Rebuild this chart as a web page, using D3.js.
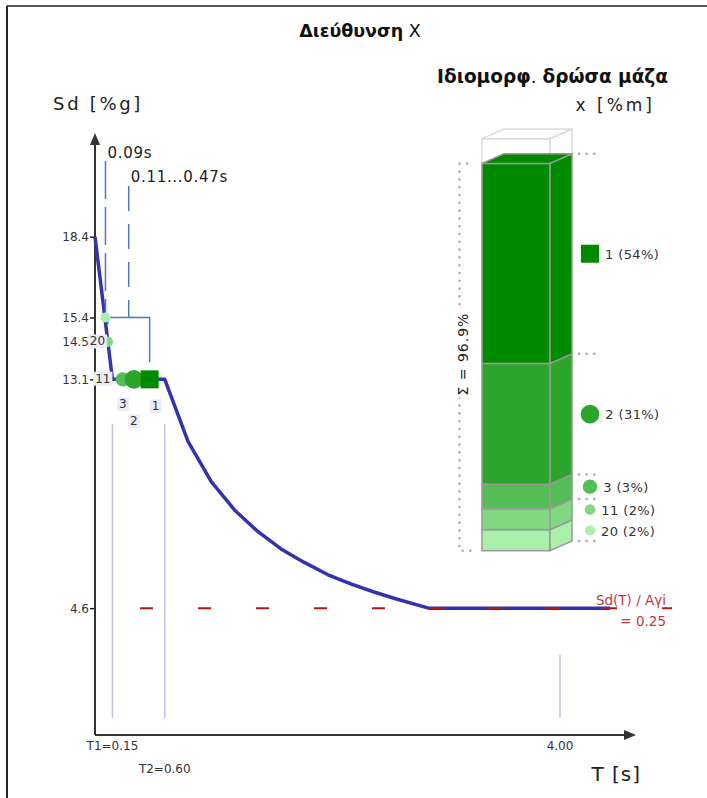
<!DOCTYPE html>
<html>
<head>
<meta charset="utf-8">
<script src="https://cdn.jsdelivr.net/npm/d3@7"></script>
<style>
  body { margin: 0; background: #fff; }
  svg { display: block; font-family: "DejaVu Sans", sans-serif; }
</style>
</head>
<body>
<div id="chart"></div>
<script>
// design spectrum
var specT  = [0, 0.15, 0.60, 0.80, 1.00, 1.20, 1.40, 1.60, 1.80, 2.00, 2.20, 2.40, 2.60, 2.87, 4.43];
var specSd = [18.4, 13.1, 13.1, 10.8, 9.3, 8.25, 7.45, 6.8, 6.3, 5.85, 5.5, 5.2, 4.93, 4.6, 4.6];

var yTicks = [18.4, 15.4, 14.5, 13.1, 4.6];
var xTicks = [0.15, 0.60, 4.00];
var xTickLabels = ["T1=0.15", "T2=0.60", "4.00"];

// modes
var modeIds  = [1, 2, 3, 11, 20];
var modeT    = [0.47, 0.335, 0.24, 0.11, 0.09];
var modeSd   = [13.1, 13.1, 13.1, 14.5, 15.4];
var modeMass = [54, 31, 3, 2, 2];
var massSum  = 96.9;
var sdRatio  = 0.25;

// styles
var modeColor  = ["#008a00", "#2ca52c", "#55bd55", "#80d880", "#aaf0aa"];
var markerR    = [9, 9.3, 7.2, 5.3, 5];
var labelNudge = [[6, 27], [0, 42], [0, 25], [-5, 37], [-8, 24]];

var W = 707, H = 798;

var svg = d3.select("#chart")
    .append("svg")
        .attr("width", W)
        .attr("height", H);

// frame
svg.append("line").attr("x1", 7).attr("x2", W).attr("y1", 6).attr("y2", 6)
    .attr("stroke", "#555").attr("stroke-width", 2);
svg.append("line").attr("x1", 7).attr("x2", 7).attr("y1", 6).attr("y2", H)
    .attr("stroke", "#222").attr("stroke-width", 2);

// scales
var x = d3.scaleLinear().domain([0, 4]).range([95, 560]);
var y = d3.scaleLinear().domain([0, 18.4]).range([732, 236.7]);
var axisY = 735, axisX = 95;

// titles
var title = svg.append("text")
    .attr("x", 360).attr("y", 37)
    .attr("text-anchor", "middle")
    .attr("font-size", "17.5px")
    .attr("fill", "#111");
title.append("tspan").attr("font-weight", "bold").text("Διεύθυνση");
title.append("tspan").text(" X");

var mt = svg.append("text")
    .attr("x", 668).attr("y", 83)
    .attr("text-anchor", "end")
    .attr("font-size", "18.5px")
    .attr("fill", "#111");
mt.append("tspan").attr("font-weight", "bold").text("Ιδιομορφ");
mt.append("tspan").text(". ");
mt.append("tspan").attr("font-weight", "bold").text("δρώσα μάζα");

svg.append("text")
    .attr("x", 655).attr("y", 111)
    .attr("text-anchor", "end")
    .attr("font-size", "17px")
    .attr("letter-spacing", "3px")
    .attr("fill", "#222")
    .text("x [%m]");

svg.append("text")
    .attr("x", 53).attr("y", 110)
    .attr("font-size", "18px")
    .attr("letter-spacing", "2.7px")
    .attr("fill", "#222")
    .text("Sd [%g]");

svg.append("text")
    .attr("x", 641).attr("y", 781)
    .attr("text-anchor", "end")
    .attr("font-size", "20px")
    .attr("letter-spacing", "1px")
    .attr("fill", "#222")
    .text("T [s]");

// vertical guides at T1, T2, 4.00
svg.selectAll(".guide")
    .data(xTicks)
    .enter().append("line")
        .attr("class", "guide")
        .attr("x1", function(d){ return x(d); })
        .attr("x2", function(d){ return x(d); })
        .attr("y1", function(d, i){ return i < 2 ? 424 : 655; })
        .attr("y2", 718)
        .attr("stroke", "#c4c4e6")
        .attr("stroke-width", 1.5);

// x labels
svg.selectAll(".xlab")
    .data(xTicks)
    .enter().append("text")
        .attr("class", "xlab")
        .attr("x", function(d){ return x(d); })
        .attr("y", function(d, i){ return i == 1 ? 773 : 750; })
        .attr("text-anchor", "middle")
        .attr("font-size", "12px")
        .attr("fill", "#333")
        .text(function(d, i){ return xTickLabels[i]; });

// y axis ticks
var yAxisGroup = svg.append("g")
    .attr("transform", "translate(" + axisX + ",0)")
    .call(d3.axisLeft(y).tickValues(yTicks).tickSize(5).tickPadding(1)
        .tickFormat(d3.format(".1f")));
yAxisGroup.select(".domain").remove();
yAxisGroup.selectAll("line").attr("stroke", "#222").attr("stroke-width", 1.5);
yAxisGroup.selectAll("text")
    .attr("font-family", "DejaVu Sans, sans-serif")
    .attr("font-size", "12px")
    .attr("fill", "#333");

// axes with arrows
svg.append("line").attr("x1", axisX).attr("x2", axisX).attr("y1", axisY).attr("y2", 142)
    .attr("stroke", "#333").attr("stroke-width", 2);
svg.append("path").attr("d", "M" + axisX + ",133 L" + (axisX - 5) + ",145 L" + (axisX + 5) + ",145 Z")
    .attr("fill", "#333");
svg.append("line").attr("x1", axisX).attr("x2", 627).attr("y1", axisY).attr("y2", axisY)
    .attr("stroke", "#333").attr("stroke-width", 2);
svg.append("path").attr("d", "M636," + axisY + " L624," + (axisY - 5) + " L624," + (axisY + 5) + " Z")
    .attr("fill", "#333");

// spectrum curve
var spec = specT.map(function(t, i){ return { T: t, Sd: specSd[i] }; });
var valueline = d3.line()
    .x(function(d){ return x(d.T); })
    .y(function(d){ return y(d.Sd); })
    .curve(d3.curveLinear);

svg.append("path")
    .datum(spec)
    .attr("fill", "none")
    .attr("stroke", "#3333b0")
    .attr("stroke-width", 3.5)
    .attr("stroke-linejoin", "round")
    .attr("d", valueline);

// Sd(T)/Aγi line, drawn over the curve
svg.append("line")
    .attr("x1", 140).attr("x2", 672)
    .attr("y1", y(4.6)).attr("y2", y(4.6))
    .attr("stroke", "#b01818")
    .attr("stroke-width", 2)
    .attr("stroke-dasharray", "13,45");

svg.append("text")
    .attr("x", 666).attr("y", 605)
    .attr("text-anchor", "end")
    .attr("font-size", "13.5px")
    .attr("fill", "#c03838")
    .text("Sd(T) / Aγi");
svg.append("text")
    .attr("x", 666).attr("y", 626)
    .attr("text-anchor", "end")
    .attr("font-size", "13.5px")
    .attr("fill", "#c03838")
    .text("= " + d3.format(".2f")(sdRatio));

// period brackets
var blue = "#4a78c0";
var tA = modeT[4], tLo = modeT[3], tHi = modeT[0];
var tMid = (x(tLo) + x(tHi)) / 2;

svg.append("line")
    .attr("x1", x(tA)).attr("x2", x(tA))
    .attr("y1", 161).attr("y2", y(modeSd[4]) - 4)
    .attr("stroke", blue).attr("stroke-width", 1.5)
    .attr("stroke-dasharray", "38,8");
svg.append("text")
    .attr("x", x(tA) + 2).attr("y", 158)
    .attr("font-size", "15px")
    .attr("letter-spacing", "0.7px")
    .attr("fill", "#222")
    .text(d3.format(".2f")(tA) + "s");

svg.append("line")
    .attr("x1", tMid).attr("x2", tMid)
    .attr("y1", 186).attr("y2", y(15.4))
    .attr("stroke", blue).attr("stroke-width", 1.5)
    .attr("stroke-dasharray", "25,13");
svg.append("text")
    .attr("x", tMid + 2).attr("y", 182)
    .attr("font-size", "15px")
    .attr("letter-spacing", "0.7px")
    .attr("fill", "#222")
    .text(d3.format(".2f")(tLo) + "..." + d3.format(".2f")(tHi) + "s");

svg.append("path")
    .attr("d", "M" + x(tLo) + "," + (y(15.4) + 7) + " V" + y(15.4) + " H" + x(tHi) + " V" + 362)
    .attr("fill", "none")
    .attr("stroke", blue)
    .attr("stroke-width", 1.5);

// mode markers on the spectrum
var modes = modeIds.map(function(id, i){
    return { id: id, T: modeT[i], Sd: modeSd[i], m: modeMass[i], c: modeColor[i], r: markerR[i], nudge: labelNudge[i] };
});

var drawOrder = modes.slice().reverse();
drawOrder.forEach(function(d){
    if (d.id == 1) {
        svg.append("rect")
            .attr("x", x(d.T) - d.r).attr("y", y(d.Sd) - d.r)
            .attr("width", d.r * 2).attr("height", d.r * 2)
            .attr("fill", d.c);
    } else {
        svg.append("circle")
            .attr("cx", x(d.T)).attr("cy", y(d.Sd))
            .attr("r", d.r)
            .attr("fill", d.c);
    }
});

// mode number labels
modes.forEach(function(d){
    var lx = x(d.T) + d.nudge[0], ly = y(d.Sd) + d.nudge[1];
    var g = svg.append("g");
    var t = g.append("text")
        .attr("x", lx).attr("y", ly + 4)
        .attr("text-anchor", "middle")
        .attr("font-size", "12px")
        .attr("fill", "#333")
        .text(d.id);
    var bb = t.node().getBBox();
    g.insert("rect", "text")
        .attr("x", bb.x - 2).attr("y", bb.y)
        .attr("width", bb.width + 4).attr("height", bb.height)
        .attr("fill", "#ececf8");
});

// 3D stacked mass bar
var bx0 = 482, bx1 = 550, dx = 22, dy = -9.7, bBottom = 550.7;
var h = d3.scaleLinear().domain([0, 2, 54]).range([0, 21, 200]);

var stack = [];
var yCur = bBottom;
drawOrder.forEach(function(d){
    var top = yCur - h(d.m);
    stack.push({ d: d, y0: yCur, y1: top });
    yCur = top;
});
var sumTop = yCur;
var emptyTop = sumTop - h(100 - massSum);

function sidePts(y0, y1) {
    return [[bx1, y1], [bx1 + dx, y1 + dy], [bx1 + dx, y0 + dy], [bx1, y0]];
}
function topPts(yy) {
    return [[bx0, yy], [bx0 + dx, yy + dy], [bx1 + dx, yy + dy], [bx1, yy]];
}
var poly = d3.line();

// empty remainder box
var bar = svg.append("g");
bar.append("rect")
    .attr("x", bx0).attr("y", emptyTop)
    .attr("width", bx1 - bx0).attr("height", sumTop - emptyTop)
    .attr("fill", "none").attr("stroke", "#dcdcdc").attr("stroke-width", 1.5);
bar.append("path").attr("d", poly(sidePts(sumTop, emptyTop)) + "Z")
    .attr("fill", "none").attr("stroke", "#dcdcdc").attr("stroke-width", 1.5);
bar.append("path").attr("d", poly(topPts(emptyTop)) + "Z")
    .attr("fill", "none").attr("stroke", "#dcdcdc").attr("stroke-width", 1.5);

stack.forEach(function(s){
    bar.append("rect")
        .attr("x", bx0).attr("y", s.y1)
        .attr("width", bx1 - bx0).attr("height", s.y0 - s.y1)
        .attr("fill", s.d.c).attr("stroke", "#999").attr("stroke-width", 1.5);
    bar.append("path").attr("d", poly(sidePts(s.y0, s.y1)) + "Z")
        .attr("fill", s.d.c).attr("stroke", "#999").attr("stroke-width", 1.5);
});
bar.append("path").attr("d", poly(topPts(sumTop)) + "Z")
    .attr("fill", stack[stack.length - 1].d.c).attr("stroke", "#999").attr("stroke-width", 1.5);

// dotted level marks right of the bar
var dotLevels = [sumTop];
stack.forEach(function(s){ if (s.d.id != 11) dotLevels.push(s.y0); });
svg.selectAll(".lvl")
    .data(dotLevels)
    .enter().append("line")
        .attr("class", "lvl")
        .attr("x1", 579).attr("x2", 598)
        .attr("y1", function(d){ return d + dy; })
        .attr("y2", function(d){ return d + dy; })
        .attr("stroke", "#aaa").attr("stroke-width", 2.5)
        .attr("stroke-linecap", "round")
        .attr("stroke-dasharray", "0.1,7.5");

// sum bracket on the left
svg.append("path")
    .attr("d", "M467," + sumTop + " H459.5 V" + bBottom + " H476")
    .attr("fill", "none")
    .attr("stroke", "#aaa").attr("stroke-width", 2.5)
    .attr("stroke-linecap", "round")
    .attr("stroke-dasharray", "0.1,7.7");

var sg = svg.append("g")
    .attr("transform", "translate(463," + ((sumTop + bBottom) / 2 - 3) + ") rotate(-90)");
var st = sg.append("text")
    .attr("x", 0).attr("y", 5)
    .attr("text-anchor", "middle")
    .attr("font-size", "14px")
    .attr("letter-spacing", "1px")
    .attr("fill", "#222")
    .text("Σ = " + massSum + "%");
var sbb = st.node().getBBox();
sg.insert("rect", "text")
    .attr("x", sbb.x - 2).attr("y", sbb.y + 2)
    .attr("width", sbb.width + 4).attr("height", sbb.height - 4)
    .attr("fill", "#fff");

// legend
stack.forEach(function(s){
    var d = s.d;
    var ly = (s.y0 + s.y1) / 2 + dy;
    if (d.id == 1) {
        svg.append("rect")
            .attr("x", 590 - d.r).attr("y", ly - d.r)
            .attr("width", d.r * 2).attr("height", d.r * 2)
            .attr("fill", d.c);
    } else {
        svg.append("circle")
            .attr("cx", 590).attr("cy", ly)
            .attr("r", d.r)
            .attr("fill", d.c);
    }
    svg.append("text")
        .attr("x", 590 + d.r + 6).attr("y", ly + 5)
        .attr("font-size", "13px")
        .attr("letter-spacing", "0.4px")
        .attr("fill", "#333")
        .text(d.id + " (" + d.m + "%)");
});
</script>
</body>
</html>
